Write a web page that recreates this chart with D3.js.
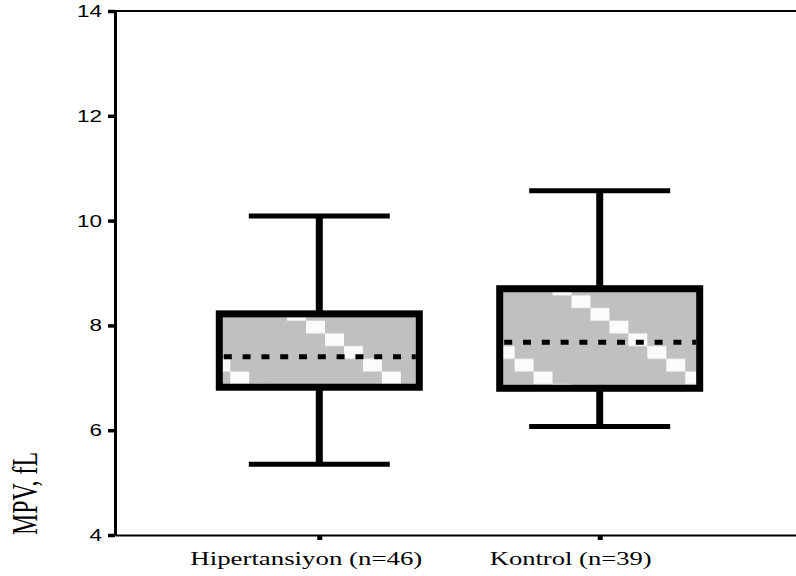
<!DOCTYPE html>
<html>
<head>
<meta charset="utf-8">
<script src="https://cdn.jsdelivr.net/npm/d3@7/dist/d3.min.js"></script>
<style>
  html, body { margin: 0; padding: 0; background: #fff; }
  svg { display: block; }
</style>
</head>
<body>
<svg id="chart" width="796" height="576"></svg>
<script>
// ---- data ----
const categories = ["Hipertansiyon (n=46)", "Kontrol (n=39)"];
const whiskerLow = [5.35, 6.07];
const q1 = [6.82, 6.80];
const median = [7.40, 7.68];
const q3 = [8.22, 8.70];
const whiskerHigh = [10.09, 10.57];
const yTicks = [4, 6, 8, 10, 12, 14];
const yLabel = "MPV, fL";

// ---- layout ----
const W = 796, H = 576;
const axisX = 115, topY = 11, bottomY = 535;
const boxWidth = 200, capWidth = 141;
const labelShift = [-13, -29];
const labelWidth = [232, 162];

const svg = d3.select("#chart");

const y = d3.scaleLinear().domain([4, 14]).range([bottomY, topY]);
const x = d3.scalePoint().domain(categories).range([axisX, W + 8]).padding(0.7286);

// pattern for box fill
const cw = 18.96, ch = 12.7;
const defs = svg.append("defs");
const pat = defs.append("pattern")
  .attr("id", "hatch")
  .attr("patternUnits", "userSpaceOnUse")
  .attr("x", 2.7).attr("y", 15.9)
  .attr("width", cw * 8).attr("height", ch * 8);
pat.append("rect").attr("width", cw * 8).attr("height", ch * 8).attr("fill", "#c0c0c0");
pat.selectAll("rect.cell").data(d3.range(8)).enter().append("rect")
  .attr("class", "cell")
  .attr("x", i => i * cw).attr("y", i => i * ch)
  .attr("width", cw).attr("height", ch)
  .attr("fill", "#fbfbfb");

// frame top line
svg.append("line")
  .attr("x1", axisX).attr("x2", W)
  .attr("y1", y(14)).attr("y2", y(14))
  .attr("stroke", "#000").attr("stroke-width", 2);

// y axis
const yAxis = svg.append("g")
  .attr("transform", `translate(${axisX},0)`)
  .call(d3.axisLeft(y).tickValues(yTicks).tickSize(7).tickSizeOuter(0).tickPadding(5));
yAxis.select(".domain").attr("stroke", "#000").attr("stroke-width", 3);
yAxis.selectAll(".tick line").attr("stroke", "#000").attr("stroke-width", 3.5);
yAxis.selectAll(".tick text")
  .attr("font-family", "'Liberation Sans', Arial, sans-serif")
  .attr("font-size", 17).attr("fill", "#000").attr("x", -13)
  .attr("textLength", d => String(d).length * 12.5)
  .attr("lengthAdjust", "spacingAndGlyphs");

// x axis
const xAxis = svg.append("g")
  .attr("transform", `translate(0,${bottomY})`)
  .call(d3.axisBottom(x).tickSize(5).tickSizeOuter(0).tickFormat(""));
xAxis.select(".domain").attr("stroke", "#000").attr("stroke-width", 2);
xAxis.selectAll(".tick line").attr("stroke", "#000").attr("stroke-width", 5);

// x labels
svg.selectAll("text.xlab").data(categories).enter().append("text")
  .attr("class", "xlab")
  .attr("x", (d, i) => x(d) + labelShift[i])
  .attr("y", bottomY + 30)
  .attr("text-anchor", "middle")
  .attr("font-family", "'Liberation Serif', 'Times New Roman', serif")
  .attr("font-size", 19.5)
  .attr("textLength", (d, i) => labelWidth[i])
  .attr("lengthAdjust", "spacingAndGlyphs")
  .attr("fill", "#000")
  .text(d => d);

// y label
svg.append("text")
  .attr("transform", `translate(37,${(452 + 535) / 2}) rotate(-90)`)
  .attr("text-anchor", "middle")
  .attr("font-family", "'Liberation Serif', 'Times New Roman', serif")
  .attr("font-size", 35)
  .attr("textLength", 83)
  .attr("lengthAdjust", "spacingAndGlyphs")
  .attr("fill", "#000")
  .text(yLabel);

// boxes
const g = svg.append("g");
categories.forEach((c, i) => {
  const cx = x(c);
  // whisker stems
  g.append("line").attr("x1", cx).attr("x2", cx)
    .attr("y1", y(whiskerHigh[i])).attr("y2", y(q3[i]))
    .attr("stroke", "#000").attr("stroke-width", 7);
  g.append("line").attr("x1", cx).attr("x2", cx)
    .attr("y1", y(q1[i])).attr("y2", y(whiskerLow[i]))
    .attr("stroke", "#000").attr("stroke-width", 7);
  // caps
  [whiskerHigh[i], whiskerLow[i]].forEach(v => {
    g.append("line").attr("x1", cx - capWidth / 2).attr("x2", cx + capWidth / 2)
      .attr("y1", y(v)).attr("y2", y(v))
      .attr("stroke", "#000").attr("stroke-width", 5);
  });
  // box
  g.append("rect")
    .attr("x", cx - boxWidth / 2).attr("y", y(q3[i]))
    .attr("width", boxWidth).attr("height", y(q1[i]) - y(q3[i]))
    .attr("fill", "url(#hatch)")
    .attr("stroke", "#000").attr("stroke-width", 7);
  // median dashed
  g.append("line")
    .attr("x1", cx - boxWidth / 2 + 3.5).attr("x2", cx + boxWidth / 2 - 3.5)
    .attr("y1", y(median[i])).attr("y2", y(median[i]))
    .attr("stroke", "#000").attr("stroke-width", 5)
    .attr("stroke-dasharray", "8,10.8")
    .attr("stroke-dashoffset", -1);
});
</script>
</body>
</html>
